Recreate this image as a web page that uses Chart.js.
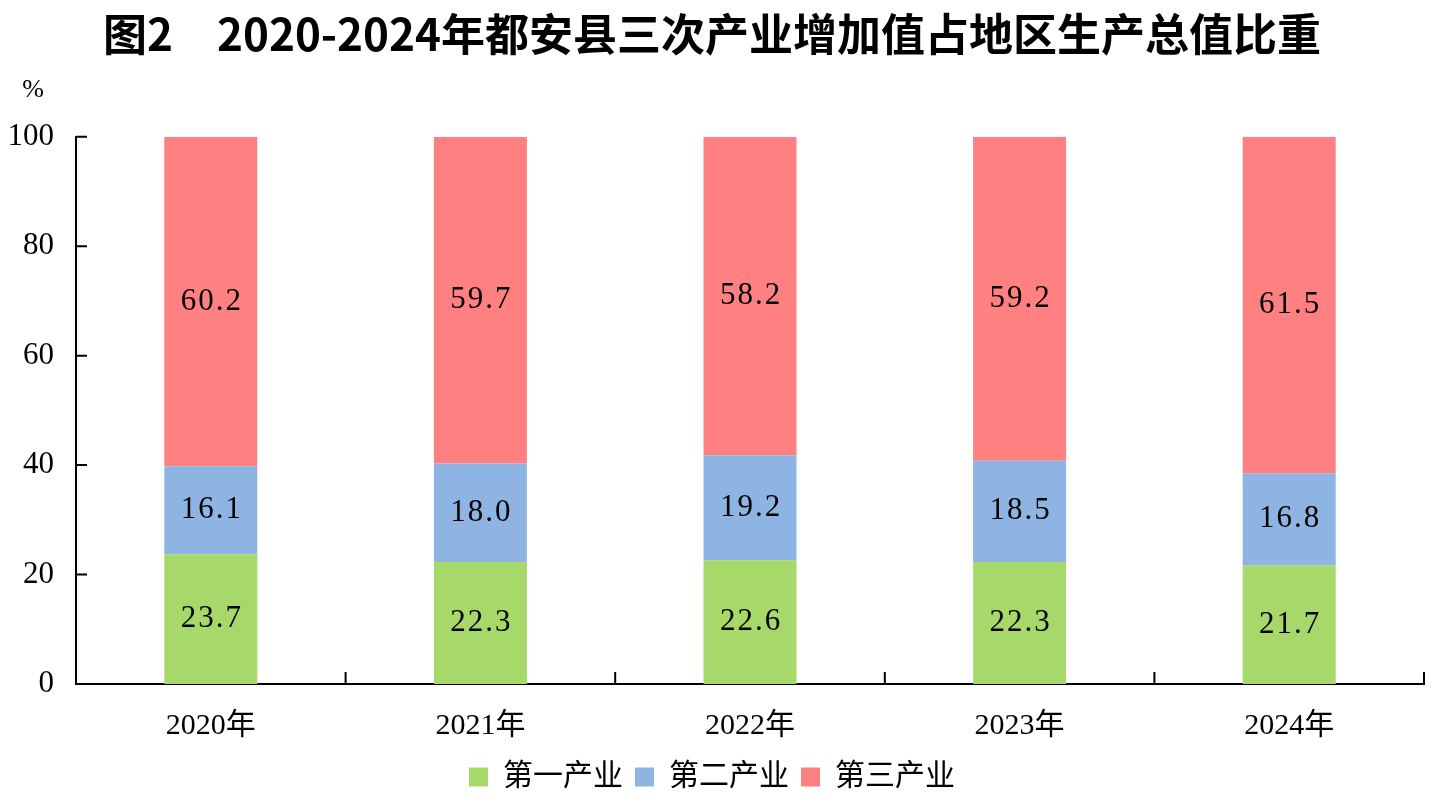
<!DOCTYPE html>
<html lang="zh-CN">
<head>
  <meta charset="UTF-8">
  <title>都安县三次产业增加值占地区生产总值比重</title>
  <script src="https://cdn.jsdelivr.net/npm/chart.js"></script>
  <style>
    html, body { margin: 0; padding: 0; background: #fff; }
    .chart-container { width: 1435px; height: 803px; }
  </style>
</head>
<body>
  <div class="chart-container">
    <canvas id="myChart"></canvas>
  </div>

  <script>
    // 数据
    const years = ['2020年', '2021年', '2022年', '2023年', '2024年'];
    const primary = [23.7, 22.3, 22.6, 22.3, 21.7];
    const secondary = [16.1, 18.0, 19.2, 18.5, 16.8];
    const tertiary = [60.2, 59.7, 58.2, 59.2, 61.5];
    const yTicks = [0, 20, 40, 60, 80, 100];

    const serif = '"Liberation Serif", "Noto Sans CJK SC", serif';

    // 柱内数值 + 坐标轴内刻度 + 单位
    const extras = {
      id: 'extras',
      afterDatasetsDraw(chart) {
        const ctx = chart.ctx;
        ctx.save();
        ctx.fillStyle = '#000';
        ctx.font = '31px ' + serif;
        ctx.letterSpacing = '2px';
        ctx.textAlign = 'center';
        ctx.textBaseline = 'middle';
        chart.data.datasets.forEach((ds, i) => {
          chart.getDatasetMeta(i).data.forEach((bar, j) => {
            ctx.fillText(ds.data[j].toFixed(1), bar.x + 1, (bar.y + bar.base) / 2);
          });
        });
        ctx.letterSpacing = '0px';

        const { left, right, bottom } = chart.chartArea;
        const x = chart.scales.x, y = chart.scales.y;
        ctx.strokeStyle = '#000';
        ctx.lineWidth = 2;
        ctx.beginPath();
        yTicks.forEach(v => {
          const py = y.getPixelForValue(v);
          ctx.moveTo(left, py);
          ctx.lineTo(left + 11, py);
        });
        for (let i = 1; i <= years.length; i++) {
          const px = i < years.length
            ? (x.getPixelForValue(i - 1) + x.getPixelForValue(i)) / 2
            : right;
          ctx.moveTo(px, bottom);
          ctx.lineTo(px, bottom - 12);
        }
        ctx.stroke();

        ctx.font = '26px ' + serif;
        ctx.fillText('%', 33, 90);
        ctx.restore();
      }
    };

    const ctx = document.getElementById('myChart').getContext('2d');
    const myChart = new Chart(ctx, {
      type: 'bar',
      data: {
        labels: years,
        datasets: [
          { label: '第一产业', data: primary, backgroundColor: '#A6D96A' },
          { label: '第二产业', data: secondary, backgroundColor: '#8EB4E3' },
          { label: '第三产业', data: tertiary, backgroundColor: '#FF8080' }
        ]
      },
      options: {
        responsive: true,
        maintainAspectRatio: false,
        animation: false,
        devicePixelRatio: 1,
        layout: { padding: { left: 0, right: 11, top: 0, bottom: 1 } },
        datasets: { bar: { barPercentage: 0.345, categoryPercentage: 1 } },
        scales: {
          x: {
            stacked: true,
            grid: { display: false },
            border: { display: true, color: '#000', width: 2 },
            ticks: { color: '#000', font: { family: serif, size: 30 }, padding: 16 },
            afterFit(s) { s.height = 66; }
          },
          y: {
            stacked: true,
            min: 0,
            max: 100,
            grid: { display: false },
            border: { display: true, color: '#000', width: 2 },
            ticks: { stepSize: 20, color: '#000', font: { family: serif, size: 31 }, padding: 14 },
            afterFit(s) { s.width = 76; }
          }
        },
        plugins: {
          title: {
            display: true,
            text: '图2　2020-2024年都安县三次产业增加值占地区生产总值比重',
            color: '#000',
            font: { family: '"Noto Sans CJK SC", sans-serif', size: 44, weight: 'bold' },
            padding: { top: 8, bottom: 76 }
          },
          legend: {
            position: 'bottom',
            labels: {
              color: '#000',
              boxWidth: 19,
              boxHeight: 19,
              padding: 12,
              font: { family: serif, size: 30 }
            }
          },
          tooltip: { enabled: false }
        }
      },
      plugins: [extras]
    });
  </script>
</body>
</html>
